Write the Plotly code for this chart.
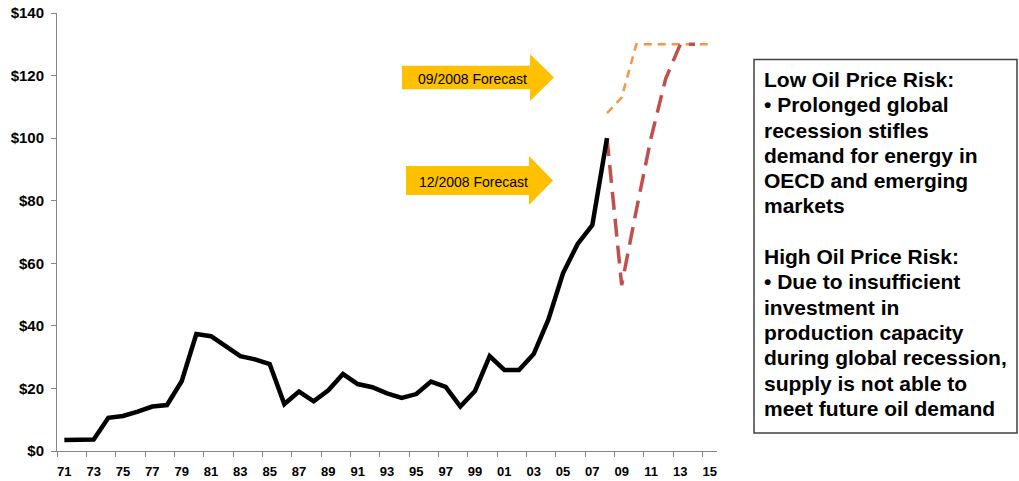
import plotly.graph_objects as go

# ---- data -------------------------------------------------------------
hist_years = [1971, 1972, 1973, 1974, 1975, 1976, 1977, 1978, 1979, 1980,
              1981, 1982, 1983, 1984, 1985, 1986, 1987, 1988, 1989, 1990,
              1991, 1992, 1993, 1994, 1995, 1996, 1997, 1998, 1999, 2000,
              2001, 2002, 2003, 2004, 2005, 2006, 2007, 2008]
hist_price = [3.5, 3.5, 3.7, 10.6, 11.2, 12.6, 14.2, 14.7, 22.3, 37.4,
              36.7, 33.5, 30.3, 29.3, 27.8, 15.0, 19.0, 15.9, 19.4, 24.6,
              21.4, 20.4, 18.4, 17.0, 18.2, 22.2, 20.5, 14.2, 19.2, 30.3,
              25.9, 25.9, 31.0, 42.0, 56.8, 66.2, 72.2, 100.0]

sep_years = [2008, 2009, 2010, 2011, 2012, 2013, 2014, 2015]
sep_price = [108, 113, 130, 130, 130, 130, 130, 130]

dec_years = [2008, 2009, 2010, 2011, 2012, 2013, 2014]
dec_price = [100, 53, 77, 100, 119, 130, 130]

tick_years = [1971, 1973, 1975, 1977, 1979, 1981, 1983, 1985, 1987, 1989,
              1991, 1993, 1995, 1997, 1999, 2001, 2003, 2005, 2007, 2009,
              2011, 2013, 2015]
tick_labels = ["71", "73", "75", "77", "79", "81", "83", "85", "87", "89",
               "91", "93", "95", "97", "99", "01", "03", "05", "07", "09",
               "11", "13", "15"]
# tick marks sit on the category boundaries, every second year
boundary_ticks = [1970.5, 1972.5, 1974.5, 1976.5, 1978.5, 1980.5, 1982.5,
                  1984.5, 1986.5, 1988.5, 1990.5, 1992.5, 1994.5, 1996.5,
                  1998.5, 2000.5, 2002.5, 2004.5, 2006.5, 2008.5, 2010.5,
                  2012.5, 2014.5]

risk_lines = [
    "Low Oil Price Risk:",
    "• Prolonged global",
    "recession stifles",
    "demand for energy in",
    "OECD and emerging",
    "markets",
    "",
    "High Oil Price Risk:",
    "• Due to insufficient",
    "investment in",
    "production capacity",
    "during global recession,",
    "supply is not able to",
    "meet future oil demand",
]

# ---- layout geometry (pixels) ------------------------------------------
W, H = 1019, 481
ML, MR, MT, MB = 57, 302, 13, 30
PW = W - ML - MR
PH = H - MT - MB


def px(x):
    return (x - ML) / PW


def py(y):
    return (H - MB - y) / PH


FONT = "Liberation Sans, Arial, sans-serif"

fig = go.Figure()

fig.add_trace(go.Scatter(
    x=sep_years, y=sep_price, mode="lines",
    line=dict(color="#F79646", width=2.5, dash="8px,6px"),
    hoverinfo="skip", showlegend=False))

fig.add_trace(go.Scatter(
    x=dec_years, y=dec_price, mode="lines",
    line=dict(color="#C0504D", width=3.5, dash="18px,9px"),
    hoverinfo="skip", showlegend=False))

fig.add_trace(go.Scatter(
    x=hist_years, y=hist_price, mode="lines",
    line=dict(color="#000000", width=4.5),
    hoverinfo="skip", showlegend=False))

# ---- forecast arrows ---------------------------------------------------
def arrow_path(x0, x1, x2, yc, body_half, head_half):
    pts = [(x0, yc - body_half), (x1, yc - body_half), (x1, yc - head_half),
           (x2, yc), (x1, yc + head_half), (x1, yc + body_half),
           (x0, yc + body_half)]
    return "M " + " L ".join(f"{px(a):.5f},{py(b):.5f}" for a, b in pts) + " Z"


arrows = [
    ("09/2008 Forecast", 402, 530, 554, 77.5, 11.8, 23.5),
    ("12/2008 Forecast", 406, 529, 553, 180.5, 14.5, 24.5),
]
for label, x0, x1, x2, yc, bh, hh in arrows:
    fig.add_shape(type="path", xref="paper", yref="paper",
                  path=arrow_path(x0, x1, x2, yc, bh, hh),
                  fillcolor="#FFC000", line=dict(width=0), layer="below")
    fig.add_annotation(xref="paper", yref="paper", x=px((x0 + x1 + 12) / 2),
                       y=py(yc + 1), text=label, showarrow=False,
                       xanchor="center", yanchor="middle",
                       font=dict(family=FONT, size=14, color="#000000"))

# ---- risk text box -----------------------------------------------------
fig.add_shape(type="rect", xref="paper", yref="paper",
              x0=px(754), x1=px(1017), y0=py(433), y1=py(59.5),
              line=dict(color="#404040", width=1.5), fillcolor="rgba(0,0,0,0)")

for k, line in enumerate(risk_lines):
    if not line:
        continue
    fig.add_annotation(xref="paper", yref="paper", x=px(762),
                       y=py(79.5 + k * 25.3), text=line, showarrow=False,
                       xanchor="left", yanchor="middle",
                       font=dict(family=FONT, size=21, color="#000000",
                                 weight="bold"))

fig.update_layout(
    width=W, height=H,
    margin=dict(l=ML, r=MR, t=MT, b=MB, pad=0, autoexpand=False),
    paper_bgcolor="white", plot_bgcolor="white",
    xaxis=dict(
        range=[1970.5, 2015.5], showgrid=False, zeroline=False,
        automargin=False,
        showline=True, linecolor="#868686", linewidth=1,
        tickmode="array", tickvals=tick_years, ticktext=tick_labels,
        ticks="", ticklabelstandoff=8,
        tickfont=dict(family=FONT, size=13, color="#000000", weight="bold"),
        minor=dict(tickmode="array", tickvals=boundary_ticks,
                   ticks="outside", ticklen=5, tickcolor="#868686",
                   tickwidth=1, showgrid=False),
    ),
    yaxis=dict(
        range=[0, 140], dtick=20, tick0=0, showgrid=False, zeroline=False,
        automargin=False,
        showline=True, linecolor="#868686", linewidth=1,
        ticks="outside", ticklen=5, tickcolor="#868686",
        tickprefix="$", ticklabelstandoff=4,
        tickfont=dict(family=FONT, size=15, color="#000000", weight="bold"),
    ),
)

fig.write_html("out.html")
